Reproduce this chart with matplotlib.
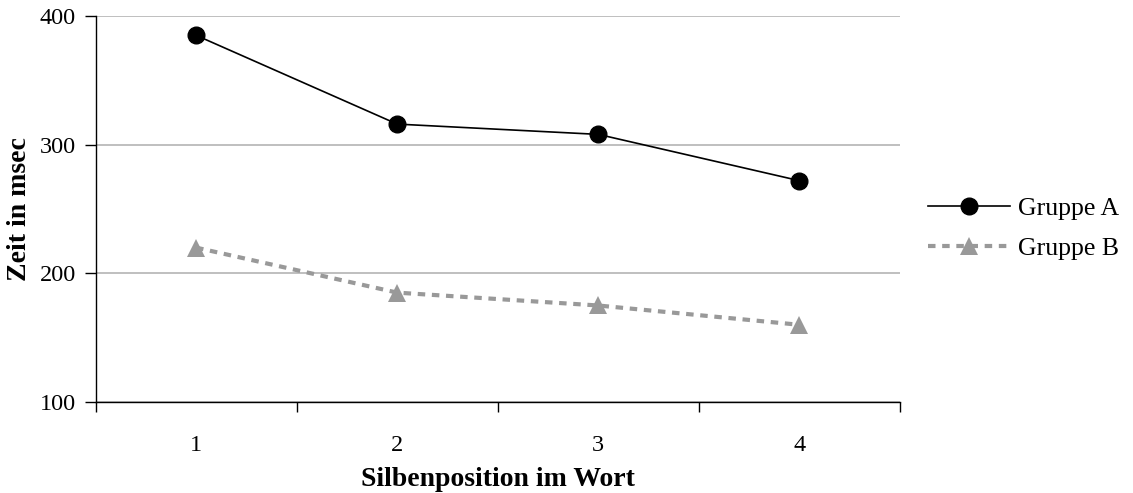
import matplotlib.pyplot as plt

plt.rcParams['font.family'] = ['Liberation Serif', 'DejaVu Serif']

# data
positions = [1, 2, 3, 4]
gruppe_a = [385, 316, 308, 272]
gruppe_b = [220, 185, 175, 160]
y_ticks = [100, 200, 300, 400]

fig = plt.figure(figsize=(11.33, 4.93), dpi=100)
ax = fig.add_axes([0.0843, 0.1846, 0.7101, 0.7829])

ax.plot(positions, gruppe_a, color='black', lw=1.2, marker='o', markersize=12,
        label='Gruppe A', zorder=3)
ax.plot(positions, gruppe_b, color='#999999', lw=3, dashes=(1.8, 1.6), marker='^',
        markersize=12.5, markeredgewidth=0, label='Gruppe B', zorder=3)

ax.set_xlim(0.5, 4.5)
ax.set_ylim(100, 400)
ax.set_yticks(y_ticks)
ax.yaxis.grid(True, color='#b4b4b4', lw=1.2)
ax.set_axisbelow(True)

# category axis: labels centred, ticks between categories
ax.set_xticks(positions)
ax.set_xticklabels([str(p) for p in positions])
ax.set_xticks([0.5, 1.5, 2.5, 3.5, 4.5], minor=True)
ax.tick_params(axis='x', which='major', length=0, pad=24, labelsize=17.5)
ax.tick_params(axis='x', which='minor', length=7, width=1, direction='out')
ax.tick_params(axis='y', length=8, width=1, pad=6, labelsize=17.5)

for side in ['top', 'right']:
    ax.spines[side].set_visible(False)
for side in ['left', 'bottom']:
    ax.spines[side].set_linewidth(1)
    ax.spines[side].set_color('black')

ax.set_xlabel('Silbenposition im Wort', fontsize=20, fontweight='bold')
ax.xaxis.set_label_coords(0.5, -0.168)
ax.set_ylabel('Zeit in msec', fontsize=20, fontweight='bold')
ax.yaxis.set_label_coords(-0.079, 0.5)

fig.legend(loc='center left', bbox_to_anchor=(0.819, 0.5365), frameon=False,
           fontsize=18.5, handlelength=3.2, handletextpad=0.3, labelspacing=0.7,
           borderpad=0, borderaxespad=0)

fig.savefig('out.png', dpi=100)
